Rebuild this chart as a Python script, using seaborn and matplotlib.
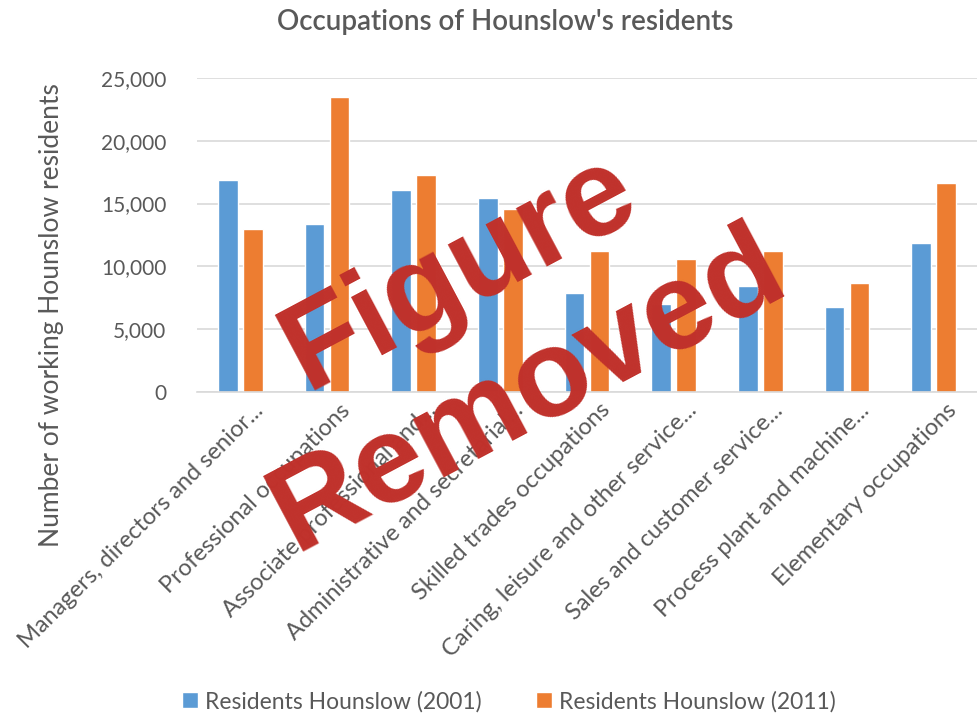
"""Occupations of Hounslow's residents, 2001 vs 2011 (grouped bars)."""
import matplotlib
matplotlib.use("Agg")
import matplotlib.pyplot as plt
import matplotlib.transforms as mtransforms
import seaborn as sns
import pandas as pd

# %%
# Data
occupations = [
    "Managers, directors and senior...",
    "Professional occupations",
    "Associate professional and...",
    "Administrative and secretarial...",
    "Skilled trades occupations",
    "Caring, leisure and other service...",
    "Sales and customer service...",
    "Process plant and machine...",
    "Elementary occupations",
]
residents_2001 = [16900, 13400, 16100, 15450, 7850, 7000, 8400, 6750, 11900]
residents_2011 = [13000, 23500, 17300, 14600, 11250, 10600, 11250, 8700, 16650]
series_names = ["Residents Hounslow (2001)", "Residents Hounslow (2011)"]
y_ticks = [0, 5000, 10000, 15000, 20000, 25000]

df = pd.DataFrame({
    "occupation": occupations * 2,
    "residents": residents_2001 + residents_2011,
    "series": [series_names[0]] * len(occupations) + [series_names[1]] * len(occupations),
})

# %%
sns.set_theme(style="white")
plt.rcParams["font.family"] = ["Lato", "DejaVu Sans"]
text_grey = "#595959"
grid_grey = "#D9D9D9"

fig = plt.figure(figsize=(9.77, 7.2), dpi=100)
ax = fig.add_axes([0.2016, 0.4556, 0.7984, 0.4361])

sns.barplot(data=df, x="occupation", y="residents", hue="series",
            palette=["#5B9BD5", "#ED7D31"], width=0.58, gap=0.22,
            saturation=1, ax=ax)

ax.set_ylim(0, 25000)
ax.set_yticks(y_ticks)
ax.set_yticklabels([f"{v:,}" for v in y_ticks], fontsize=15, color=text_grey)
ax.yaxis.grid(True, color=grid_grey, linewidth=1.2)
ax.set_axisbelow(True)
for side in ["left", "right", "top"]:
    ax.spines[side].set_visible(False)
ax.spines["bottom"].set_color(grid_grey)
ax.spines["bottom"].set_linewidth(1.2)
ax.tick_params(axis="y", length=0, pad=22)
ax.tick_params(axis="x", length=0, pad=4)

ax.set_xlabel("")
ax.set_ylabel("Number of working Hounslow residents", fontsize=19,
              color=text_grey)
ax.yaxis.set_label_coords(-0.17, 0.245)

ax.set_xticks(range(len(occupations)))
ax.set_xticklabels(occupations, rotation=45, ha="right", rotation_mode="anchor",
                   fontsize=17, color=text_grey)
shift = mtransforms.ScaledTranslation(0.12, -0.02, fig.dpi_scale_trans)
for lbl in ax.get_xticklabels():
    lbl.set_transform(lbl.get_transform() + shift)

fig.text(505 / 977, 1 - 22 / 720, "Occupations of Hounslow's residents",
         ha="center", va="center", fontsize=20, fontweight="semibold",
         color=text_grey)

handles, labels = ax.get_legend_handles_labels()
ax.get_legend().remove()
fig.legend(handles, labels, loc="lower center", bbox_to_anchor=(0.521, -0.018),
           ncol=2, frameon=False, fontsize=16.5, labelcolor=text_grey,
           handlelength=0.7, handleheight=0.7, handletextpad=0.3,
           columnspacing=2.4)

# watermark stamped over the chart
fig.text(460 / 977, 1 - 272 / 720, "Figure", rotation=28, rotation_mode="anchor",
         ha="center", va="center", fontsize=90, fontweight="bold",
         color="#C0312B", family="Liberation Sans")
fig.text(529 / 977, 1 - 392 / 720, "Removed", rotation=28, rotation_mode="anchor",
         ha="center", va="center", fontsize=90, fontweight="bold",
         color="#C0312B", family="Liberation Sans")

plt.savefig("out.png", dpi=100)
